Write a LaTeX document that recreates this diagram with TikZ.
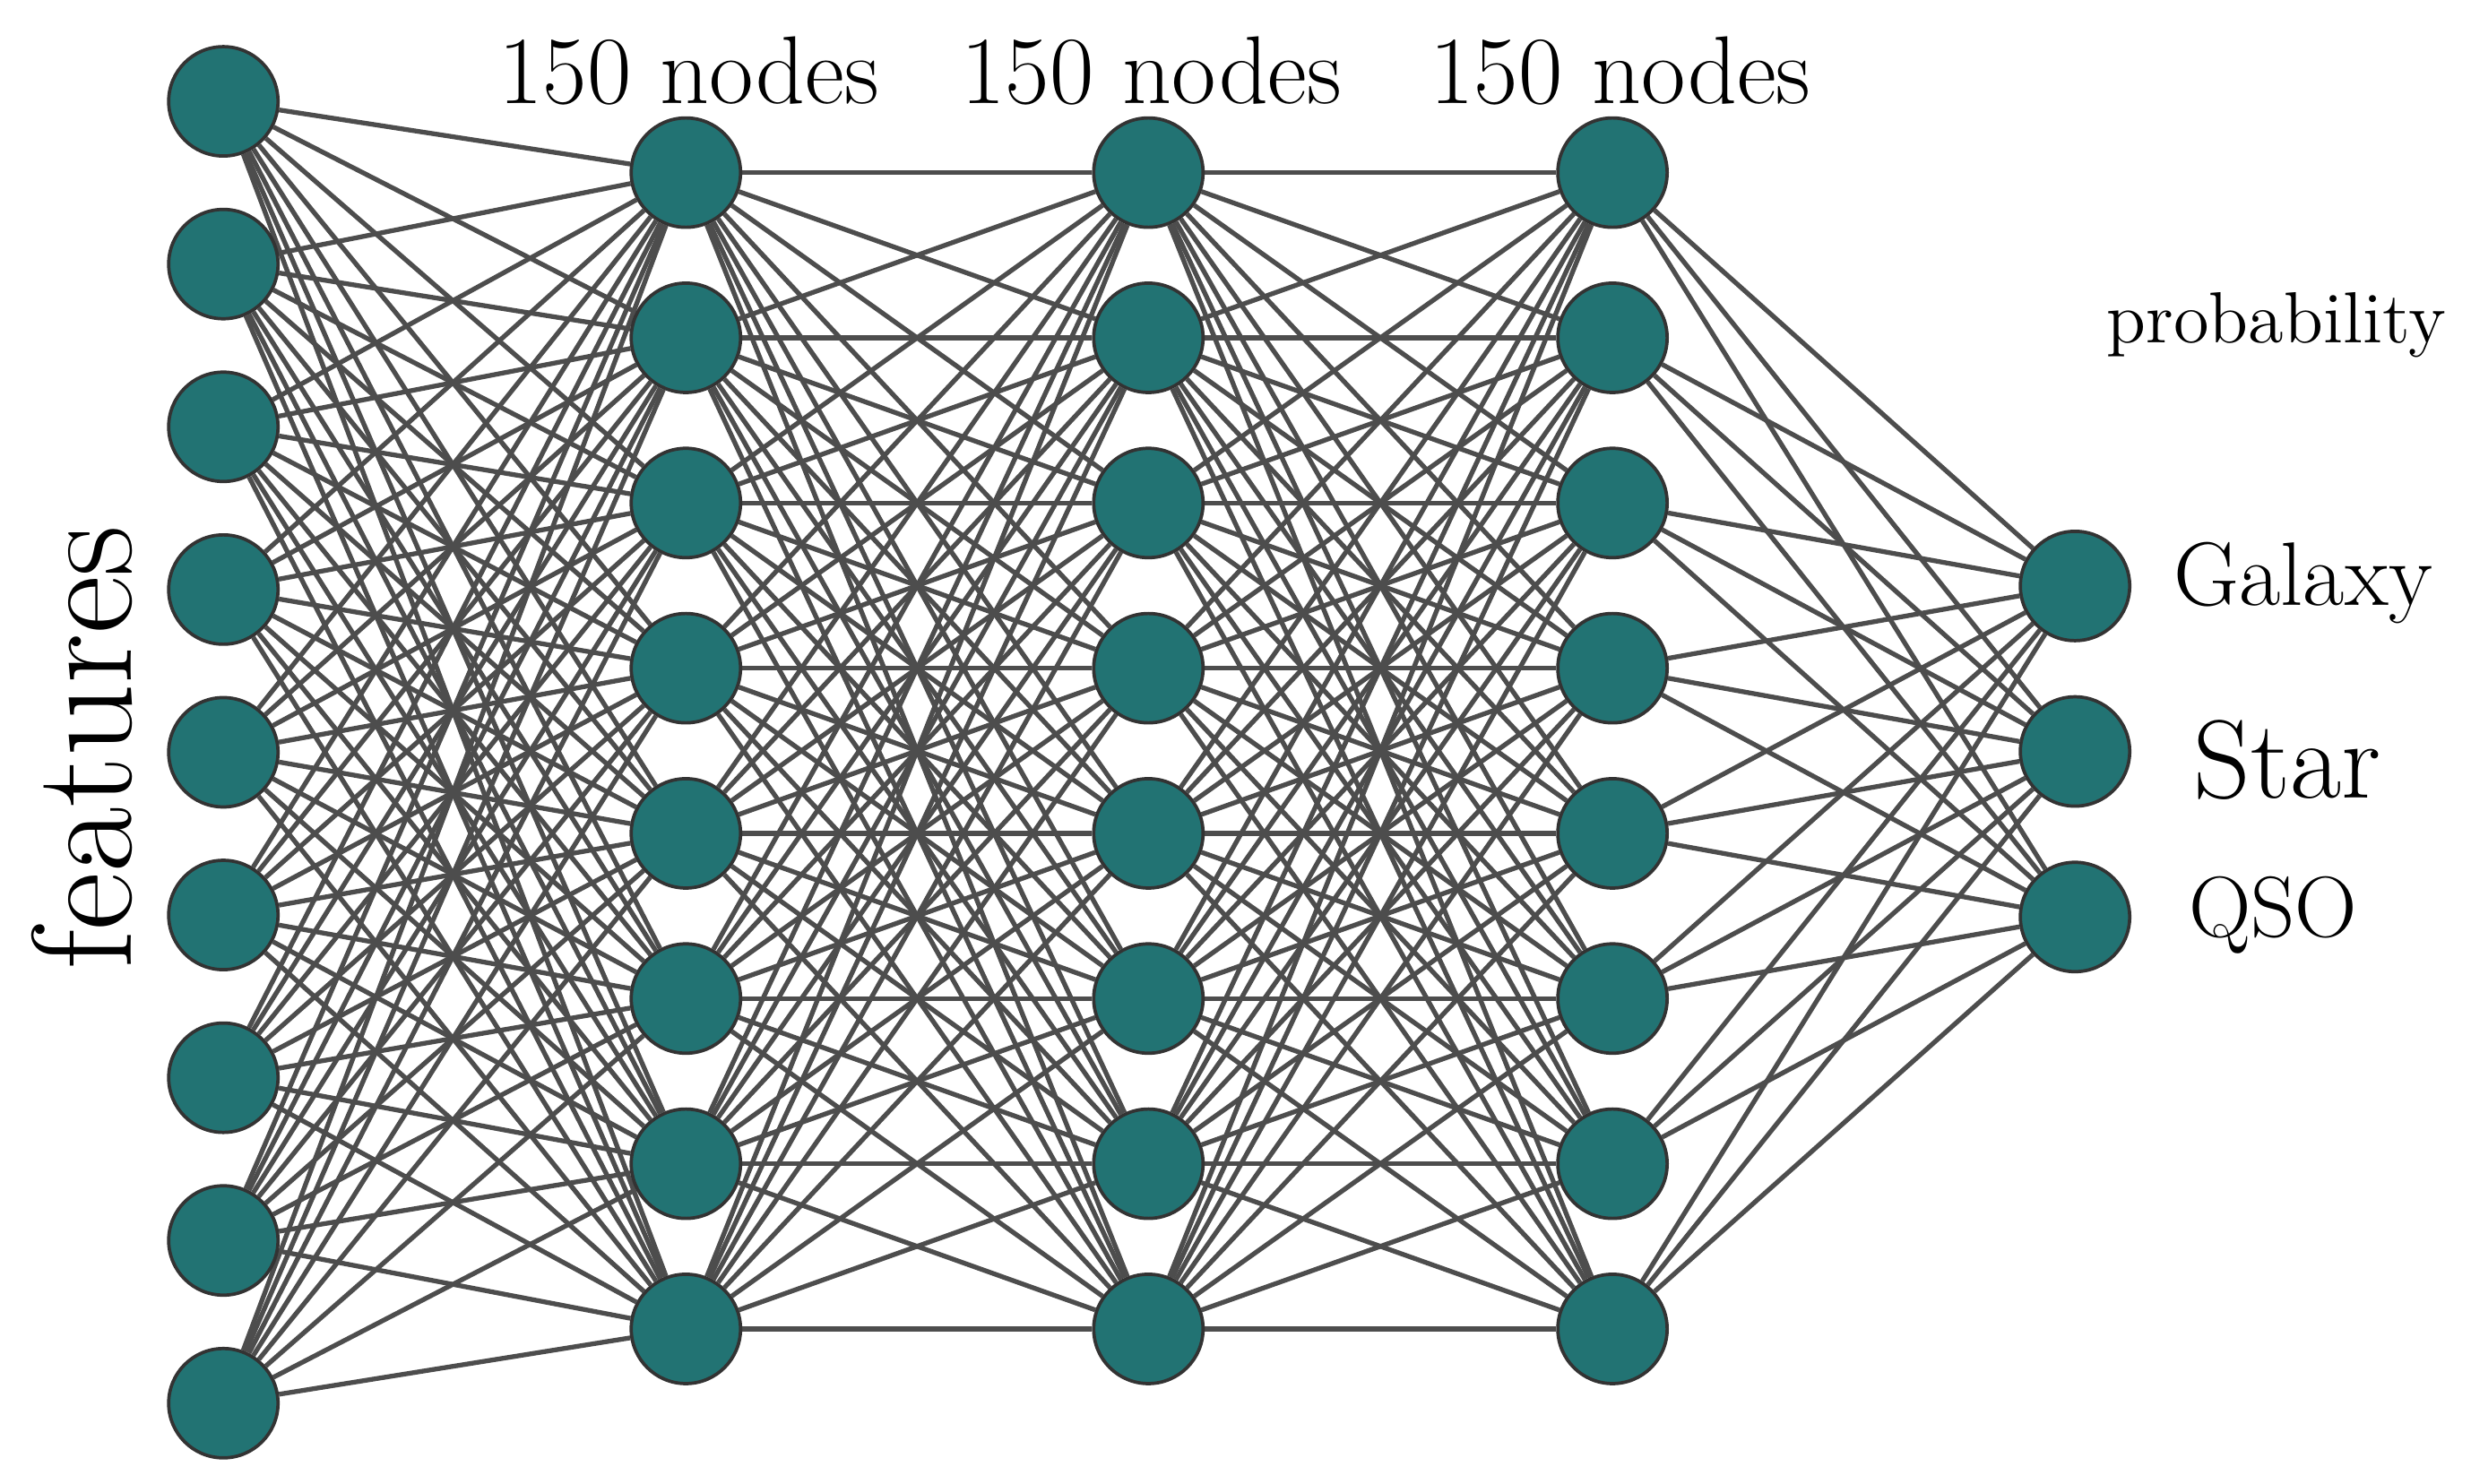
\documentclass[tikz,border=0pt]{standalone}
\usetikzlibrary{backgrounds}
\definecolor{nfill}{HTML}{227373}
\definecolor{edgec}{HTML}{4D4D4D}
\begin{document}
\begin{tikzpicture}[x=0.01cm,y=-0.01cm,
  neuron/.style={circle,fill=nfill,draw=black!80,line width=0.6pt,minimum size=0.69cm,inner sep=0pt},
  conn/.style={draw=edgec,line width=0.85pt}]
\useasboundingbox (0,0) rectangle (1560,937);
\foreach \i in {1,...,9} \node[neuron] (a\i) at (141,{64+(\i-1)*102.75}) {};
\foreach \l/\x in {b/433,c/725,d/1018}
  \foreach \i in {1,...,8} \node[neuron] (\l\i) at (\x,{109+(\i-1)*104.3}) {};
\foreach \i in {1,2,3} \node[neuron] (e\i) at (1310,{370+(\i-1)*104.5}) {};
\begin{pgfonlayer}{background}
\foreach \i in {1,...,9} \foreach \j in {1,...,8} \draw[conn] (a\i) -- (b\j);
\foreach \i in {1,...,8} \foreach \j in {1,...,8} {\draw[conn] (b\i) -- (c\j); \draw[conn] (c\i) -- (d\j);}
\foreach \i in {1,...,8} \foreach \j in {1,2,3} \draw[conn] (d\i) -- (e\j);
\end{pgfonlayer}
\node (t1) at (435,45) {\fontsize{17.3}{20}\selectfont 150 nodes};
\node (t2) at (727,45) {\fontsize{17.3}{20}\selectfont 150 nodes};
\node (t3) at (1023,45) {\fontsize{17.3}{20}\selectfont 150 nodes};
\node (p) at (1437,205) {\fontsize{13}{15}\selectfont probability};
\node (g) at (1454,368) {\fontsize{16.2}{19}\selectfont Galaxy};
\node (s) at (1444,480) {\fontsize{20}{23}\selectfont Star};
\node (q) at (1435,578) {\fontsize{15.5}{18}\selectfont QSO};
\node[rotate=90] (f) at (52,472) {\fontsize{25.5}{28}\selectfont features};
\end{tikzpicture}
\end{document}
